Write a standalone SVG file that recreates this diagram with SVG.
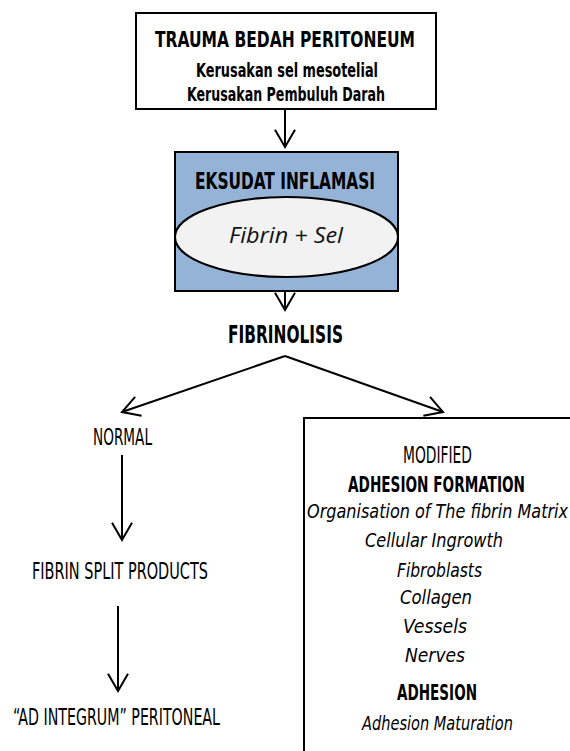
<svg xmlns="http://www.w3.org/2000/svg" width="570" height="751" viewBox="0 0 570 751">
<style>
.t{font-family:"DejaVu Sans Condensed","DejaVu Sans","Liberation Sans",sans-serif;text-anchor:middle;fill:#000}
.b{font-weight:bold}
.i{font-style:italic}
.box{stroke:#000;stroke-width:2}
.c{stroke:#000;stroke-width:2;fill:none}
</style>
<defs>
<marker id="ah" markerUnits="userSpaceOnUse" viewBox="-22 -12 24 24" refX="0" refY="0" markerWidth="24" markerHeight="24" orient="auto">
<path d="M-17.3,-10 L0,0 L-17.3,10" fill="none" stroke="#000" stroke-width="2" stroke-linejoin="miter"/>
</marker>
</defs>
<rect width="570" height="751" fill="#fff"/>
<g id="trauma">
<rect class="box" x="136" y="13" width="300" height="96" fill="#fff"/>
<text class="t b" x="285" y="47" font-size="22" textLength="260" lengthAdjust="spacingAndGlyphs">TRAUMA BEDAH PERITONEUM</text>
<text class="t b" x="287" y="77" font-size="19" textLength="182" lengthAdjust="spacingAndGlyphs">Kerusakan sel mesotelial</text>
<text class="t b" x="286" y="101" font-size="19" textLength="198" lengthAdjust="spacingAndGlyphs">Kerusakan Pembuluh Darah</text>
</g>
<g id="eksudat">
<rect class="box" x="175" y="152" width="223" height="139" fill="#95b3d7"/>
<text class="t b" x="285" y="189" font-size="23" textLength="180" lengthAdjust="spacingAndGlyphs">EKSUDAT INFLAMASI</text>
<ellipse class="box" cx="286.5" cy="237" rx="111.5" ry="40" fill="#f2f2f2"/>
<text x="286" y="243" font-family="'Open Sans','Liberation Sans',sans-serif" font-style="italic" font-size="21" text-anchor="middle" fill="#111" textLength="114" lengthAdjust="spacingAndGlyphs">Fibrin + Sel</text>
</g>
<g id="fibrinolisis">
<text class="t b" x="285.5" y="343" font-size="25" textLength="115" lengthAdjust="spacingAndGlyphs">FIBRINOLISIS</text>
</g>
<g id="normal">
<text class="t" x="122.5" y="445" font-size="23" textLength="59" lengthAdjust="spacingAndGlyphs">NORMAL</text>
</g>
<g id="fsp">
<text class="t" x="120" y="579" font-size="23" textLength="176" lengthAdjust="spacingAndGlyphs">FIBRIN SPLIT PRODUCTS</text>
</g>
<g id="adintegrum">
<text class="t" x="116.5" y="725" font-size="23" textLength="207" lengthAdjust="spacingAndGlyphs">“AD INTEGRUM” PERITONEAL</text>
</g>
<g id="modified">
<path class="c" d="M304,753 L304,418 L572,418"/>
<text class="t" x="437.5" y="463" font-size="23" textLength="69" lengthAdjust="spacingAndGlyphs">MODIFIED</text>
<text class="t b" x="436.5" y="492" font-size="21" textLength="177" lengthAdjust="spacingAndGlyphs">ADHESION FORMATION</text>
<text class="t i" x="437.5" y="518" font-size="20" textLength="261" lengthAdjust="spacingAndGlyphs">Organisation of The fibrin Matrix</text>
<text class="t i" x="434" y="547" font-size="20" textLength="138" lengthAdjust="spacingAndGlyphs">Cellular Ingrowth</text>
<text class="t i" x="439.5" y="577" font-size="20" textLength="85" lengthAdjust="spacingAndGlyphs">Fibroblasts</text>
<text class="t i" x="436" y="604" font-size="20" textLength="72" lengthAdjust="spacingAndGlyphs">Collagen</text>
<text class="t i" x="435" y="633" font-size="20" textLength="64" lengthAdjust="spacingAndGlyphs">Vessels</text>
<text class="t i" x="435" y="662" font-size="20" textLength="60" lengthAdjust="spacingAndGlyphs">Nerves</text>
<text class="t b" x="437" y="700" font-size="21" textLength="80" lengthAdjust="spacingAndGlyphs">ADHESION</text>
<text class="t i" x="437.5" y="730" font-size="20" textLength="151" lengthAdjust="spacingAndGlyphs">Adhesion Maturation</text>
</g>
<g id="connectors">
<line class="c" x1="285" y1="110" x2="285" y2="147" marker-end="url(#ah)"/>
<line class="c" x1="285" y1="291" x2="285" y2="310" marker-end="url(#ah)"/>
<line class="c" x1="285" y1="356" x2="122" y2="412" marker-end="url(#ah)"/>
<line class="c" x1="285" y1="356" x2="443" y2="412" marker-end="url(#ah)"/>
<line class="c" x1="122" y1="455" x2="122" y2="540" marker-end="url(#ah)"/>
<line class="c" x1="118" y1="606" x2="118" y2="691" marker-end="url(#ah)"/>
</g>
</svg>
